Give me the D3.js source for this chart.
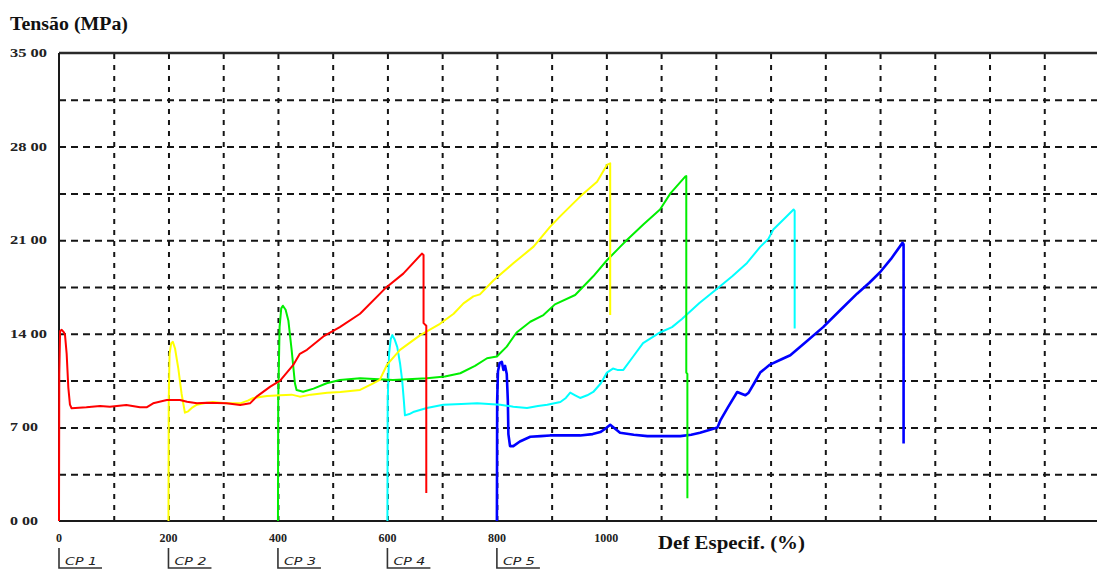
<!DOCTYPE html>
<html>
<head>
<meta charset="utf-8">
<script src="https://cdn.jsdelivr.net/npm/d3@7"></script>
<style>
  html, body { margin: 0; padding: 0; background: #fff; }
  svg { display: block; }
</style>
</head>
<body>
<svg id="chart" width="1097" height="576"></svg>
<script>
// Stress–strain curves for five specimens (strain in %, stress in MPa)
const specimenNames = ["CP 1", "CP 2", "CP 3", "CP 4", "CP 5"];
const specimenStart = [0, 200, 400, 600, 800];
const specimenColors = ["#ff0000", "#ffff00", "#00ee00", "#00ffff", "#0000ff"];

const cp1 = [[0,0],[0.5,11],[2,14.2],[5,14.3],[9,14.1],[11,13.9],[14,12.5],[17,10],[20,8.7],[23,8.43],
  [50,8.5],[75,8.6],[93,8.55],[123,8.68],[148,8.5],[160,8.5],[172,8.8],[197,9.05],[221,9.05],[234,8.92],
  [252,8.8],[270,8.85],[306,8.8],[331,8.68],[349,8.8],[361,9.3],[386,10.05],[404,10.5],[428,11.67],
  [440,12.5],[453,12.8],[483,13.8],[513,14.5],[550,15.5],[596,17.4],[629,18.5],[663,20.0],[666,19.9],
  [666,14.8],[671,14.6],[671,2.1]];

const cp2 = [[200,0],[200.5,9],[202,12.5],[205,13.3],[208,13.4],[212,12.9],[218,11.4],[224,9.5],[230,8.1],
  [236,8.2],[244,8.5],[252,8.7],[265,8.8],[281,8.9],[305,8.8],[331,8.8],[345,9.0],[355,9.2],[380,9.35],
  [404,9.4],[425,9.45],[440,9.3],[460,9.45],[490,9.6],[514,9.65],[550,9.8],[574,10.3],[586,10.55],
  [599,11.67],[623,12.8],[660,13.9],[696,14.75],[721,15.5],[739,16.28],[757,16.8],[769,16.95],[794,18.0],
  [830,19.27],[867,20.52],[897,22.0],[915,22.76],[952,24.26],[983,25.38],[1001,26.63],[1007,26.75],[1007,15.4]];

const cp3 = [[400,0],[400.5,9],[403,14.5],[406,15.9],[409,16.1],[414,15.8],[419,15.0],[425,12.8],[431,10.3],
  [434,9.8],[446,9.67],[465,9.9],[489,10.3],[513,10.55],[550,10.67],[610,10.55],[672,10.67],[705,10.8],
  [733,11.05],[760,11.6],[782,12.17],[800,12.3],[818,13.04],[836,14.1],[861,14.9],[885,15.4],[906,16.2],
  [943,16.9],[976,18.3],[1001,19.5],[1025,20.5],[1037,21.0],[1068,22.2],[1098,23.3],[1117,24.5],
  [1144,25.75],[1146,25.8],[1146,11.1],[1148,11.0],[1148,1.7]];

const cp4 = [[600,0],[600.5,9],[603,12.5],[606,13.6],[609,13.9],[613,13.6],[618,13.0],[623,11.8],[627,10.5],
  [630,9],[632,7.9],[640,8.0],[647,8.15],[672,8.45],[702,8.7],[735,8.75],[764,8.8],[785,8.75],[806,8.7],
  [830,8.55],[855,8.45],[875,8.6],[892,8.7],[916,8.9],[926,9.2],[934,9.6],[943,9.4],[952,9.2],[965,9.4],
  [976,9.65],[990,10.3],[1001,11.1],[1012,11.4],[1020,11.3],[1031,11.3],[1049,12.3],[1067,13.3],[1098,14.1],
  [1120,14.5],[1138,15.1],[1170,16.3],[1200,17.3],[1230,18.3],[1257,19.3],[1281,20.5],[1296,21.1],
  [1305,21.8],[1325,22.6],[1342,23.3],[1344,23.2],[1344,14.4]];

const cp5 = [[800,0],[800.5,9],[802,11.2],[805,11.8],[809,11.9],[812,11.3],[815,11.6],[818,11.0],[820,9],
  [821,6.5],[824,5.6],[830,5.6],[842,5.95],[861,6.3],[880,6.35],[897,6.4],[925,6.4],[952,6.4],[975,6.5],
  [989,6.65],[998,6.9],[1007,7.2],[1016,6.9],[1025,6.6],[1050,6.45],[1075,6.35],[1105,6.35],[1135,6.35],
  [1155,6.45],[1171,6.6],[1188,6.8],[1203,7.0],[1208,7.5],[1222,8.5],[1239,9.65],[1248,9.5],[1254,9.4],
  [1260,9.6],[1270,10.3],[1281,11.1],[1299,11.7],[1320,12.1],[1336,12.4],[1365,13.4],[1396,14.5],
  [1428,15.8],[1458,17.0],[1480,17.8],[1500,18.6],[1520,19.6],[1541,20.8],[1543,20.7],[1543,5.8]];

const curves = [cp1, cp2, cp3, cp4, cp5];

const yLabelValues = [0, 7, 14, 21, 28, 35];
const yLabelTexts = ["0 00", "7 00", "14 00", "21 00", "28 00", "35 00"];
const xLabelValues = [0, 200, 400, 600, 800, 1000];
const xLabelTexts = ["0", "200", "400", "600", "800", "1000"];
const yGridValues = [3.5, 7, 10.5, 14, 17.5, 21, 24.5, 28, 31.5];
const xGridValues = d3.range(100, 1900, 100);

const svg = d3.select("#chart");
const plotLeft = 59, plotRight = 1099, plotTop = 53, plotBottom = 521;

const x = d3.scaleLinear().domain([0, 1900]).range([plotLeft, plotRight]);
const y = d3.scaleLinear().domain([0, 35]).range([plotBottom, plotTop]);

svg.append("rect").attr("width", 1097).attr("height", 576).attr("fill", "#fff");

// dashed grid
const gridY = svg.append("g").attr("transform", `translate(${plotLeft},0)`)
  .call(d3.axisLeft(y).tickValues(yGridValues).tickSize(-(plotRight - plotLeft)).tickFormat(""));
gridY.select(".domain").remove();
gridY.selectAll("line").attr("stroke", "#151515").attr("stroke-width", 2).attr("stroke-dasharray", "7,5");

const gridX = svg.append("g").attr("transform", `translate(0,${plotBottom})`)
  .call(d3.axisBottom(x).tickValues(xGridValues).tickSize(-(plotBottom - plotTop)).tickFormat(""));
gridX.select(".domain").remove();
gridX.selectAll("line").attr("stroke", "#151515").attr("stroke-width", 2).attr("stroke-dasharray", "5,6");

// frame: top, bottom, left
svg.append("line").attr("x1", plotLeft).attr("x2", plotRight).attr("y1", y(35)).attr("y2", y(35))
  .attr("stroke", "#2a2a2a").attr("stroke-width", 2.5);
svg.append("line").attr("x1", plotLeft).attr("x2", plotRight).attr("y1", y(0)).attr("y2", y(0))
  .attr("stroke", "#1a1a1a").attr("stroke-width", 2);
svg.append("line").attr("x1", plotLeft).attr("x2", plotLeft).attr("y1", y(0)).attr("y2", y(35))
  .attr("stroke", "#1a1a1a").attr("stroke-width", 2);

// curves
const line = d3.line().x(d => x(d[0])).y(d => y(d[1]));
const order = [4, 3, 2, 1, 0];
order.forEach(i => {
  svg.append("path")
    .datum(curves[i])
    .attr("d", line)
    .attr("fill", "none")
    .attr("stroke", specimenColors[i])
    .attr("stroke-width", i === 4 ? 2.6 : 2)
    .attr("stroke-linejoin", "round");
});

// axis texts
const serif = "'Liberation Serif', 'Times New Roman', serif";
svg.append("text").attr("x", 10).attr("y", 30)
  .attr("font-family", serif).attr("font-weight", "bold").attr("font-size", 18)
  .attr("textLength", 118).attr("lengthAdjust", "spacingAndGlyphs")
  .attr("fill", "#111").text("Tensão (MPa)");

yLabelValues.forEach((v, i) => {
  const t = yLabelTexts[i];
  svg.append("text").attr("x", 10).attr("y", y(v) + 4)
    .attr("font-family", serif).attr("font-weight", "bold").attr("font-size", 12)
    .attr("textLength", t.length === 5 ? 37 : 28).attr("lengthAdjust", "spacingAndGlyphs")
    .attr("fill", "#222").text(t);
});

xLabelValues.forEach((v, i) => {
  const t = xLabelTexts[i];
  svg.append("text").attr("x", x(v)).attr("y", 542).attr("text-anchor", "middle")
    .attr("font-family", serif).attr("font-weight", "bold").attr("font-size", 12)
    .attr("fill", "#222").text(t);
});

svg.append("text").attr("x", 658).attr("y", 549)
  .attr("font-family", serif).attr("font-weight", "bold").attr("font-size", 18)
  .attr("textLength", 147).attr("lengthAdjust", "spacingAndGlyphs")
  .attr("fill", "#111").text("Def Especif. (%)");

// specimen markers under the axis
specimenStart.forEach((s, i) => {
  const x0 = x(s);
  const g = svg.append("g");
  g.append("path").attr("d", `M${x0},548 V568 H${x0 + 43}`)
    .attr("fill", "none").attr("stroke", "#333").attr("stroke-width", 1.6);
  g.append("text").attr("x", x0 + 6).attr("y", 565)
    .attr("font-family", "'DejaVu Sans', sans-serif").attr("font-style", "italic")
    .attr("font-size", 11).attr("textLength", 32).attr("lengthAdjust", "spacingAndGlyphs")
    .attr("fill", "#222").text(specimenNames[i]);
});
</script>
</body>
</html>
